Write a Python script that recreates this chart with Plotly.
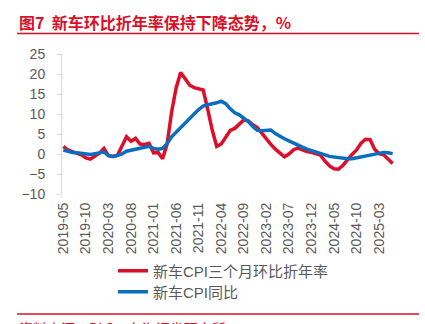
import pandas as pd
import plotly.graph_objects as go

# ---- data ----
months = [d.strftime("%Y-%m") for d in pd.date_range("2019-05-01", "2025-06-01", freq="MS")]
red_3m_ann = [1.9, 1.0, 0.6, 0.3, -0.2, -1.0, -1.3, -0.5, 0.2, 1.4,
              -0.4, -0.6, -0.3, 2.0, 4.3, 3.2, 3.9, 2.5, 2.4, 2.7,
              0.3, 0.4, -1.2, 2.5, 10.5, 16.5, 20.4, 18.8, 17.2, 16.6,
              16.3, 16.0, 11.2, 6.0, 1.9, 2.5, 4.2, 5.9, 6.4, 7.5,
              8.5, 8.3, 7.3, 6.6, 5.1, 3.6, 2.4, 1.2, 0.1, -0.7,
              0.0, 1.0, 1.5, 1.0, 0.6, 0.4, 0.1, -0.3, -1.8, -3.0,
              -3.7, -3.8, -2.8, -1.4, -0.1, 1.0, 2.7, 3.7, 3.6, 1.2,
              0.1, -0.2, -1.2, -2.4]
blue_yoy = [1.0, 0.6, 0.4, 0.3, 0.1, 0.0, -0.1, 0.1, 0.3, 0.5,
            -0.4, -0.6, -0.4, 0.0, 0.7, 0.9, 1.3, 1.5, 1.7, 1.9,
            1.4, 1.2, 1.4, 2.6, 4.3, 5.5, 6.6, 7.8, 8.8, 10.0,
            11.1, 12.0, 12.3, 12.5, 12.8, 13.2, 12.6, 11.3, 10.3, 9.8,
            9.0, 8.1, 6.9, 5.9, 5.8, 5.9, 6.0, 5.1, 4.4, 3.8,
            3.3, 2.7, 2.3, 1.7, 1.2, 0.9, 0.5, 0.2, -0.2, -0.6,
            -0.8, -1.0, -1.1, -1.2, -1.2, -1.0, -0.6, -0.4, -0.2, 0.0,
            0.1, 0.4, 0.3, 0.1]
x_ticklabels = months[::5]
y_ticks = [-10, -5, 0, 5, 10, 15, 20, 25]
series_names = ["新车CPI三个月环比折年率", "新车CPI同比"]
title_text = "图7  新车环比折年率保持下降态势，%"
source_text = "资料来源：BLS，东海证券研究所"

RED = "#DC0F29"
BLUE = "#0A6EC0"
GRAY_TXT = "#595959"
AX_GRAY = "#D9D9D9"
FONT = "Liberation Sans, Noto Sans CJK SC, sans-serif"

W, H = 425, 324
L, R, T, B = 62, 394, 54, 194  # plot area in pixels
n = len(months)
xr = [-0.3, n - 1 + 0.3]
ymin, ymax = -10, 25


def px(x):
    return (x - L) / (R - L)


def py(y):
    return (B - y) / (B - T)


fig = go.Figure()
fig.add_trace(go.Scatter(x=months, y=red_3m_ann, mode="lines", name=series_names[0],
                         line=dict(color=RED, width=3.5), legend="legend"))
fig.add_trace(go.Scatter(x=months, y=blue_yoy, mode="lines", name=series_names[1],
                         line=dict(color=BLUE, width=3.5), legend="legend2"))

leg_common = dict(xanchor="left", yanchor="middle", font=dict(size=15, color=GRAY_TXT),
                  bgcolor="rgba(0,0,0,0)", itemwidth=30)

fig.update_layout(
    width=W, height=H,
    margin=dict(l=L, r=W - R, t=T, b=H - B, pad=0),
    paper_bgcolor="white", plot_bgcolor="white",
    font=dict(family=FONT, size=14, color=GRAY_TXT),
    showlegend=True,
    legend=dict(x=px(113), y=py(271), **leg_common),
    legend2=dict(x=px(113), y=py(292), **leg_common),
    xaxis=dict(type="category", categoryorder="array", categoryarray=months,
               range=xr, tickmode="array", tickvals=x_ticklabels, ticktext=x_ticklabels,
               tickangle=-90, ticks="", showline=False, showgrid=False, zeroline=False,
               ticklabelstandoff=5, tickfont=dict(size=14, color=GRAY_TXT)),
    xaxis2=dict(overlaying="x", anchor="free", position=(0 - ymin) / (ymax - ymin),
                type="linear", range=xr, tickmode="linear", tick0=-0.5, dtick=5,
                ticks="outside", ticklen=5, tickcolor=AX_GRAY, tickwidth=1,
                showticklabels=False, showline=True, linecolor=AX_GRAY, linewidth=1.5,
                showgrid=False, zeroline=False, layer="below traces"),
    yaxis=dict(range=[ymin, ymax], tickmode="array", tickvals=y_ticks,
               ticks="outside", ticklen=4, tickcolor=AX_GRAY, showline=True,
               linecolor=AX_GRAY, linewidth=1, showgrid=False, zeroline=False,
               ticklabelstandoff=9, tickfont=dict(size=14, color=GRAY_TXT)),
)

fig.add_annotation(text=title_text, xref="paper", yref="paper", x=px(17), y=py(22),
                   xanchor="left", yanchor="middle", showarrow=False,
                   font=dict(family="Noto Sans CJK SC, sans-serif", size=16, color=RED,
                             weight="bold"))
fig.add_annotation(text=source_text, xref="paper", yref="paper", x=px(17), y=py(316),
                   xanchor="left", yanchor="top", showarrow=False,
                   font=dict(family="Noto Sans CJK SC, sans-serif", size=14, color=RED))
for yy in (33.5, 314):
    fig.add_shape(type="line", xref="paper", yref="paper", x0=px(17), x1=px(419),
                  y0=py(yy), y1=py(yy), line=dict(color=RED, width=1.5))

fig.write_html("out.html")
